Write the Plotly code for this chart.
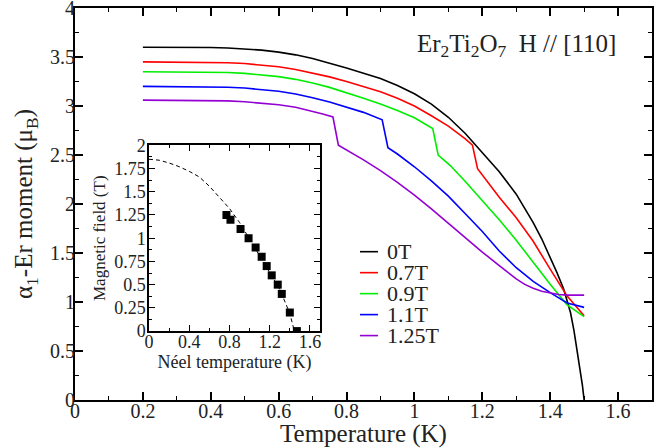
import plotly.graph_objects as go

# ---------------- data ----------------
T_0T = [0.2, 0.3, 0.4, 0.45, 0.5, 0.55, 0.6, 0.65, 0.7, 0.75, 0.8, 0.85, 0.9, 0.95, 1.0, 1.05,
        1.1, 1.15, 1.2, 1.25, 1.3, 1.35, 1.375, 1.4, 1.42, 1.44, 1.45, 1.46, 1.47, 1.48, 1.49,
        1.495, 1.5]
M_0T = [3.600, 3.600, 3.597, 3.592, 3.583, 3.57, 3.55, 3.522, 3.485, 3.44, 3.388, 3.335, 3.28,
        3.21, 3.125, 3.02, 2.885, 2.72, 2.525, 2.33, 2.10, 1.81, 1.645, 1.455, 1.30, 1.13, 1.02,
        0.89, 0.71, 0.49, 0.27, 0.15, 0.0]

T_07 = [0.2, 0.4, 0.45, 0.5, 0.55, 0.6, 0.65, 0.7, 0.75, 0.8, 0.85, 0.9, 0.95, 1.0, 1.05, 1.1,
        1.15, 1.171, 1.186, 1.25, 1.3, 1.35, 1.4, 1.45, 1.5]
M_07 = [3.45, 3.447, 3.442, 3.433, 3.42, 3.40, 3.373, 3.338, 3.297, 3.25, 3.20, 3.145, 3.08, 3.00,
        2.90, 2.795, 2.665, 2.60, 2.36, 2.07, 1.86, 1.62, 1.335, 1.06, 0.86]

T_09 = [0.2, 0.4, 0.45, 0.5, 0.55, 0.6, 0.65, 0.7, 0.75, 0.8, 0.85, 0.9, 0.95, 1.0, 1.054,
        1.07, 1.105, 1.15, 1.2, 1.25, 1.3, 1.35, 1.4, 1.45, 1.5]
M_09 = [3.35, 3.347, 3.342, 3.333, 3.32, 3.30, 3.272, 3.235, 3.19, 3.137, 3.08, 3.02, 2.955,
        2.88, 2.77, 2.50, 2.395, 2.23, 2.04, 1.84, 1.63, 1.40, 1.18, 0.97, 0.85]

T_11 = [0.2, 0.4, 0.45, 0.5, 0.55, 0.6, 0.65, 0.7, 0.75, 0.8, 0.85, 0.905, 0.922, 0.95, 1.0,
        1.05, 1.1, 1.15, 1.2, 1.25, 1.3, 1.35, 1.4, 1.45, 1.5]
M_11 = [3.20, 3.197, 3.192, 3.183, 3.17, 3.15, 3.122, 3.085, 3.04, 2.99, 2.935, 2.86, 2.575, 2.51,
        2.38, 2.235, 2.08, 1.90, 1.72, 1.52, 1.35, 1.21, 1.095, 0.99, 0.945]

T_125 = [0.2, 0.4, 0.45, 0.5, 0.55, 0.6, 0.65, 0.7, 0.73, 0.76, 0.776, 0.85, 0.9, 0.95, 1.0,
         1.05, 1.1, 1.15, 1.2, 1.25, 1.275, 1.3, 1.325, 1.35, 1.375, 1.4, 1.425, 1.45, 1.5]
M_125 = [3.06, 3.057, 3.052, 3.043, 3.03, 3.013, 2.987, 2.948, 2.918, 2.888, 2.60, 2.45, 2.34,
         2.22, 2.09, 1.95, 1.80, 1.655, 1.51, 1.37, 1.30, 1.235, 1.18, 1.14, 1.11, 1.09, 1.077,
         1.07, 1.07]

series_labels = ["0T", "0.7T", "0.9T", "1.1T", "1.25T"]
series_T = [T_0T, T_07, T_09, T_11, T_125]
series_M = [M_0T, M_07, M_09, M_11, M_125]
series_colors = ["#000000", "#ff0000", "#00ee00", "#0000ff", "#9400d3"]

# inset: Neel temperature vs field
neel_T = [0.77, 0.81, 0.91, 0.99, 1.06, 1.12, 1.17, 1.22, 1.28, 1.32, 1.40, 1.47]
neel_B = [1.25, 1.2, 1.1, 1.0, 0.9, 0.8, 0.7, 0.6, 0.5, 0.4, 0.2, 0.0]
fit_T = [0.0, 0.1, 0.2, 0.3, 0.4, 0.5, 0.6, 0.7, 0.8, 0.9, 1.0, 1.1, 1.2, 1.3, 1.4, 1.445]
fit_B = [1.85, 1.84, 1.81, 1.77, 1.72, 1.66, 1.56, 1.445, 1.32, 1.17, 0.99, 0.82, 0.64, 0.45,
         0.19, 0.0]

# ---------------- layout helpers ----------------
W, H = 666, 448
L, R, TOP, BOT = 75, 652, 7.5, 400


def px_x(p):
    return (p - L) / (R - L)


def px_y(p):
    return (BOT - p) / (BOT - TOP)


FONT = "Liberation Serif"
TXT = "#222222"

fig = go.Figure()
for lab, tx, my, col in zip(series_labels, series_T, series_M, series_colors):
    fig.add_trace(go.Scatter(x=tx, y=my, mode="lines", name=lab,
                             line=dict(color=col, width=1.6), showlegend=False,
                             xaxis="x", yaxis="y"))

fig.add_trace(go.Scatter(x=fit_T, y=fit_B, mode="lines",
                         line=dict(color="black", width=1, dash="4px,3px"),
                         showlegend=False, xaxis="x2", yaxis="y2"))
fig.add_trace(go.Scatter(x=neel_T, y=neel_B, mode="markers",
                         marker=dict(symbol="square", size=8, color="black"),
                         showlegend=False, xaxis="x2", yaxis="y2"))

main_axis = dict(showgrid=False, zeroline=False, showline=True, linecolor="black",
                 linewidth=2, mirror="allticks", ticks="inside", ticklen=8, tickwidth=1.5,
                 tickcolor="black", automargin=False, ticklabeloverflow="allow",
                 tickfont=dict(family=FONT, size=20, color=TXT))

inset_axis = dict(showgrid=False, zeroline=False, showline=True, linecolor="black",
                  linewidth=1.5, mirror="allticks", ticks="inside", ticklen=6, tickwidth=1.2,
                  tickcolor="black", automargin=False, ticklabeloverflow="allow",
                  tickfont=dict(family=FONT, size=18, color=TXT))

ix0, ix1 = px_x(149), px_x(320)
iy0, iy1 = px_y(331), px_y(145)

fig.update_layout(
    width=W, height=H,
    margin=dict(l=L, r=W - R, t=TOP, b=H - BOT, autoexpand=False),
    paper_bgcolor="white", plot_bgcolor="white",
    showlegend=False,
    xaxis=dict(main_axis, range=[0, 1.7], dtick=0.2, tick0=0, ticklabelstandoff=-8,
               minor=dict(dtick=0.1, ticklen=4, ticks="inside", tickcolor="black", tickwidth=1.2),
               title=dict(text="Temperature (K)", font=dict(family=FONT, size=25, color=TXT),
                          standoff=0)),
    yaxis=dict(main_axis, range=[0, 4], dtick=0.5, tick0=0, ticklabelstandoff=-6,
               minor=dict(dtick=0.25, ticklen=4, ticks="inside", tickcolor="black", tickwidth=1.2),
               title=dict(text="α<sub>1</sub>-Er moment (μ<sub>B</sub>)",
                          font=dict(family=FONT, size=25, color=TXT), standoff=10)),
    xaxis2=dict(inset_axis, domain=[ix0, ix1], anchor="y2", range=[0, 1.7], dtick=0.4, tick0=0,
                ticklabelstandoff=-6,
                minor=dict(dtick=0.2, ticklen=3, ticks="inside", tickcolor="black", tickwidth=1),
                title=dict(text="Néel temperature (K)", font=dict(family=FONT, size=18, color=TXT),
                           standoff=2)),
    yaxis2=dict(inset_axis, domain=[iy0, iy1], anchor="x2", range=[0, 2], dtick=0.25, tick0=0,
                ticklabelstandoff=-2,
                minor=dict(dtick=0.125, ticklen=3, ticks="inside", tickcolor="black", tickwidth=1),
                title=dict(text="Magnetic field (T)", font=dict(family=FONT, size=17, color=TXT),
                           standoff=4)),
)

# title-like label
fig.add_annotation(xref="paper", yref="paper", x=px_x(618), y=px_y(45), xanchor="right",
                   yanchor="middle", showarrow=False,
                   text="Er<sub>2</sub>Ti<sub>2</sub>O<sub>7</sub>&nbsp; H // [110]",
                   font=dict(family=FONT, size=25, color=TXT))

# custom legend
leg_y0, leg_dy = 251.5, 21.0
for i, (lab, col) in enumerate(zip(series_labels, series_colors)):
    yy = px_y(leg_y0 + i * leg_dy)
    fig.add_shape(type="line", xref="paper", yref="paper", x0=px_x(360), x1=px_x(378),
                  y0=yy, y1=yy, line=dict(color=col, width=1.6))
    fig.add_annotation(xref="paper", yref="paper", x=px_x(386), y=yy, xanchor="left",
                       yanchor="middle", showarrow=False, text=lab, borderpad=0,
                       font=dict(family=FONT, size=22, color=TXT))

fig.write_html("out.html")
